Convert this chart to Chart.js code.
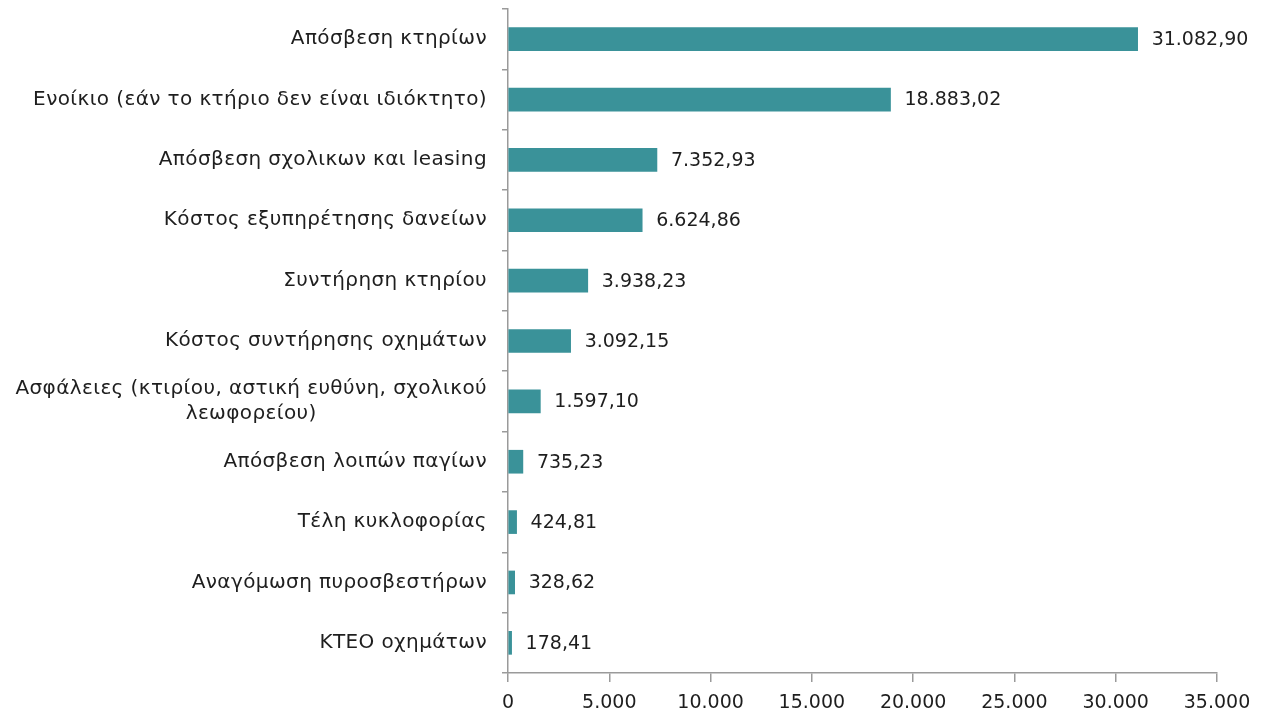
<!DOCTYPE html>
<html>
<head>
<meta charset="utf-8">
<script src="https://cdn.jsdelivr.net/npm/chart.js@4.4.1/dist/chart.umd.min.js"></script>
<style>
  html, body { margin: 0; padding: 0; background: #fff; }
  #wrap { width: 1263px; height: 715px; }
</style>
</head>
<body>
<div id="wrap"><canvas id="chart" width="1263" height="715"></canvas></div>
<script>
// cost categories (top to bottom)
const categories = [
    'Απόσβεση κτηρίων',
    'Ενοίκιο (εάν το κτήριο δεν είναι ιδιόκτητο)',
    'Απόσβεση σχολικων και leasing',
    'Κόστος εξυπηρέτησης δανείων ',
    'Συντήρηση κτηρίου',
    'Κόστος συντήρησης οχημάτων',
    ['Ασφάλειες (κτιρίου, αστική ευθύνη, σχολικού', 'λεωφορείου)'],
    'Απόσβεση λοιπών παγίων ',
    'Τέλη κυκλοφορίας',
    'Αναγόμωση πυροσβεστήρων',
    'ΚΤΕΟ οχημάτων'
];

const costs = [31082.90, 18883.02, 7352.93, 6624.86, 3938.23, 3092.15, 1597.10, 735.23, 424.81, 328.62, 178.41];

const xTicks = [0, 5000, 10000, 15000, 20000, 25000, 30000, 35000];

const BAR_COLOR = '#3A9299';
const TEXT_COLOR = '#1e1e1e';
const AXIS_COLOR = '#9a9a9a';
const FONT = '"DejaVu Sans", sans-serif';
const FONT_SIZE = 19;
const LABEL_SIZE = 20;

function fmtGreek(v, decimals) {
    const parts = v.toFixed(decimals).split('.');
    const intPart = parts[0].replace(/\B(?=(\d{3})+(?!\d))/g, '.');
    return parts.length > 1 ? intPart + ',' + parts[1] : intPart;
}

// category labels, right aligned block, lines centred inside the block
const categoryLabels = {
    id: 'categoryLabels',
    afterDraw(chart) {
        const ctx = chart.ctx;
        const yScale = chart.scales.y;
        const right = yScale.right - 21;
        const lineH = LABEL_SIZE * 1.25;
        ctx.save();
        ctx.font = LABEL_SIZE + 'px ' + FONT;
        ctx.letterSpacing = '0.4px';
        ctx.fillStyle = TEXT_COLOR;
        ctx.textBaseline = 'middle';
        categories.forEach((cat, i) => {
            const lines = Array.isArray(cat) ? cat : [cat];
            const w = Math.max(...lines.map(l => ctx.measureText(l.trimEnd()).width));
            const cx = right - w / 2;
            const yc = yScale.getPixelForValue(i);
            const y0 = yc - (lines.length - 1) * lineH / 2;
            lines.forEach((l, j) => {
                if (lines.length === 1) {
                    ctx.textAlign = 'right';
                    ctx.fillText(l.trimEnd(), right, y0);
                } else {
                    ctx.textAlign = 'center';
                    ctx.fillText(l, cx, y0 + j * lineH);
                }
            });
        });
        ctx.restore();
    }
};

// value labels at the end of each bar
const valueLabels = {
    id: 'valueLabels',
    afterDatasetsDraw(chart) {
        const ctx = chart.ctx;
        const meta = chart.getDatasetMeta(0);
        ctx.save();
        ctx.font = FONT_SIZE + 'px ' + FONT;
        ctx.fillStyle = TEXT_COLOR;
        ctx.textBaseline = 'middle';
        ctx.textAlign = 'left';
        meta.data.forEach((bar, i) => {
            ctx.fillText(fmtGreek(costs[i], 2), bar.x + 14, bar.y + 1);
        });
        ctx.restore();
    }
};

new Chart(document.getElementById('chart').getContext('2d'), {
    type: 'bar',
    data: {
        labels: categories,
        datasets: [{
            data: costs,
            backgroundColor: BAR_COLOR,
            borderWidth: 0,
            barThickness: 23
        }]
    },
    options: {
        indexAxis: 'y',
        responsive: false,
        animation: false,
        layout: { padding: { top: 9, right: 46, bottom: 0, left: 0 } },
        plugins: {
            legend: { display: false },
            tooltip: { enabled: false }
        },
        scales: {
            x: {
                min: 0,
                max: 35000,
                afterBuildTicks: (scale) => { scale.ticks = xTicks.map(v => ({ value: v })); },
                afterFit: (scale) => { scale.height = 42; },
                border: { color: AXIS_COLOR, width: 1.5 },
                grid: { drawOnChartArea: false, drawTicks: true, tickLength: 9, color: AXIS_COLOR, lineWidth: 1.5 },
                ticks: {
                    color: TEXT_COLOR,
                    font: { family: FONT, size: FONT_SIZE },
                    padding: 10,
                    maxRotation: 0,
                    callback: (v) => fmtGreek(v, 0)
                }
            },
            y: {
                afterFit: (scale) => { scale.width = 508; },
                border: { color: AXIS_COLOR, width: 1.5 },
                grid: { drawOnChartArea: false, drawTicks: true, tickLength: 6, color: AXIS_COLOR, lineWidth: 1.5, offset: true },
                ticks: { display: false }
            }
        }
    },
    plugins: [categoryLabels, valueLabels]
});
</script>
</body>
</html>
